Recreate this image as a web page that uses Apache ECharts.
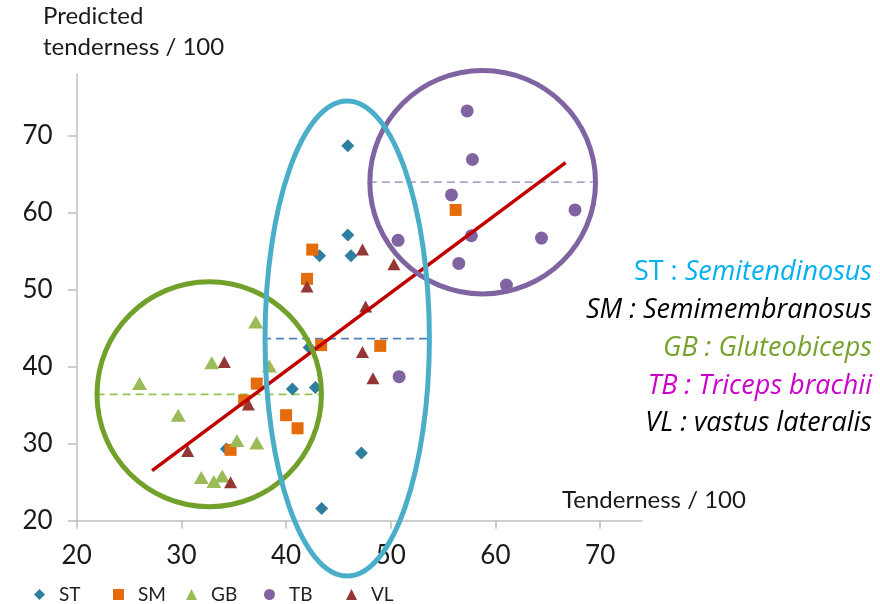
<!DOCTYPE html>
<html>
<head>
<meta charset="utf-8">
<script src="https://cdn.jsdelivr.net/npm/echarts@6/dist/echarts.min.js"></script>
<style>
  html, body { margin: 0; padding: 0; background: #ffffff; }
  #chart { width: 880px; height: 604px; }
</style>
</head>
<body>
<div id="chart"></div>
<script>
// Axis ticks
const xTicks = [20, 30, 40, 50, 60, 70];
const yTicks = [20, 30, 40, 50, 60, 70];

// Measured tenderness (x) and predicted tenderness (y), per muscle
const stTenderness = [45.9, 45.9, 46.2, 43.2, 42.2, 40.6, 42.8, 47.2, 43.4, 34.3];
const stPredicted  = [68.7, 57.1, 54.4, 54.4, 42.5, 37.1, 37.3, 28.8, 21.6, 29.3];

const smTenderness = [42.5, 42.0, 43.35, 49.0, 37.2, 36.0, 34.7, 40.0, 41.1, 56.2];
const smPredicted  = [55.2, 51.4, 42.8, 42.7, 37.8, 35.6, 29.2, 33.7, 32.0, 60.35];

const gbTenderness = [26.0, 29.7, 32.9, 37.1, 38.4, 35.3, 37.2, 31.9, 33.1, 33.9];
const gbPredicted  = [37.8, 33.7, 40.5, 45.8, 40.1, 30.4, 30.1, 25.6, 25.1, 25.8];

const tbTenderness = [57.3, 57.8, 55.8, 67.6, 57.7, 64.4, 50.7, 56.5, 61.05, 50.8];
const tbPredicted  = [73.2, 66.9, 62.3, 60.35, 57.0, 56.7, 56.4, 53.4, 50.6, 38.7];

const vlTenderness = [34.1, 36.4, 30.6, 34.7, 42.0, 47.3, 50.3, 47.6, 47.3, 48.3];
const vlPredicted  = [40.6, 35.1, 29.05, 25.0, 50.4, 55.2, 53.3, 47.8, 41.9, 38.5];

// Fitted line end points
const trendX = [27.2, 66.7];
const trendY = [26.5, 66.5];

// Group mean lines (GB, ST, TB): level and horizontal span
const meanLevel = [36.4, 43.65, 63.95];
const meanFrom  = [21.9, 37.8, 47.9];
const meanTo    = [43.2, 53.6, 69.3];

// Grouping ellipses (GB, TB, ST): centre and half-widths in axis units
const zoneCx = [32.66, 58.78, 45.84];
const zoneCy = [36.42, 63.95, 43.66];
const zoneRx = [10.72, 10.78, 7.85];
const zoneRy = [14.6, 14.5, 30.84];

const FONT = 'Lato, "Open Sans", sans-serif';
const NOTE_FONT = '"Open Sans", sans-serif';
const colors = {
  ST: '#2E7EA1', SM: '#E46C0A', GB: '#9BBB59', TB: '#8064A2', VL: '#943634'
};
const zoneColors = ['#71A12B', '#8064A2', '#4BAEC8'];
const meanColors = ['#92C452', '#4F81BD', '#B3A2C7'];

function pairs(xs, ys) { return xs.map((x, i) => [x, ys[i]]); }

const groups = [
  { name: 'ST', x: stTenderness, y: stPredicted, symbol: 'diamond', size: 13 },
  { name: 'SM', x: smTenderness, y: smPredicted, symbol: 'rect', size: 12 },
  { name: 'GB', x: gbTenderness, y: gbPredicted, symbol: 'triangle', size: [15, 13] },
  { name: 'TB', x: tbTenderness, y: tbPredicted, symbol: 'circle', size: 13 },
  { name: 'VL', x: vlTenderness, y: vlPredicted, symbol: 'triangle', size: [13, 12] }
];

const series = groups.map(g => ({
  name: g.name,
  type: 'scatter',
  symbol: g.symbol,
  symbolSize: g.size,
  itemStyle: { color: colors[g.name], opacity: 1 },
  data: pairs(g.x, g.y),
  z: 3
}));

series.push({
  name: 'trend',
  type: 'line',
  data: pairs(trendX, trendY),
  symbol: 'none',
  lineStyle: { color: '#C00000', width: 3.5 },
  silent: true,
  z: 4
});

meanLevel.forEach((lvl, i) => {
  series.push({
    name: 'mean' + i,
    type: 'line',
    data: [[meanFrom[i], lvl], [meanTo[i], lvl]],
    symbol: 'none',
    lineStyle: { color: meanColors[i], width: 1.8, type: [8, 5] },
    silent: true,
    z: 2
  });
});

series.push({
  name: 'zones',
  type: 'custom',
  coordinateSystem: 'cartesian2d',
  silent: true,
  clip: false,
  z: 10,
  encode: { x: 0, y: 1 },
  data: zoneCx.map((cx, i) => [cx, zoneCy[i], zoneRx[i], zoneRy[i]]),
  renderItem(params, api) {
    const c = api.coord([api.value(0), api.value(1)]);
    const s = api.size([api.value(2), api.value(3)], [api.value(0), api.value(1)]);
    return {
      type: 'ellipse',
      shape: { cx: c[0], cy: c[1], rx: s[0], ry: s[1] },
      style: { fill: 'none', stroke: zoneColors[params.dataIndex], lineWidth: 5 }
    };
  }
});

// One legend block per muscle, laid out along the bottom
const legendLeft = { ST: 29, SM: 108, GB: 181, TB: 259, VL: 341 };
const legends = groups.map(g => ({
  data: [g.name],
  left: legendLeft[g.name],
  top: 580,
  orient: 'horizontal',
  itemWidth: 11,
  itemHeight: 11,
  itemGap: 0,
  selectedMode: false,
  textStyle: { fontFamily: FONT, fontSize: 19, color: '#222', padding: [0, 0, 10, 9] }
}));

const axisLine = { show: true, lineStyle: { color: '#BFBFBF', width: 1.5 } };

const option = {
  animation: false,
  backgroundColor: '#ffffff',
  grid: { left: 76.7, right: 238, top: 74, bottom: 83.3 },
  legend: legends,
  xAxis: {
    type: 'value', min: 20, max: 74, interval: 10,
    axisLine: axisLine,
    axisTick: { show: true, length: 8, customValues: xTicks, lineStyle: { color: '#BFBFBF', width: 1.5 } },
    axisLabel: { customValues: xTicks, margin: 22, fontFamily: FONT, fontSize: 26, color: '#1a1a1a' },
    splitLine: { show: false }
  },
  yAxis: {
    type: 'value', min: 20, max: 78, interval: 10,
    axisLine: axisLine,
    axisTick: { show: true, length: 9, customValues: yTicks, lineStyle: { color: '#BFBFBF', width: 1.5 } },
    axisLabel: { customValues: yTicks, margin: 24, fontFamily: FONT, fontSize: 26, color: '#1a1a1a' },
    splitLine: { show: false }
  },
  graphic: [
    { type: 'text', x: 43, y: 16, style: { text: 'Predicted', font: '24px ' + FONT, fill: '#1a1a1a', verticalAlign: 'middle' } },
    { type: 'text', x: 43, y: 47, style: { text: 'tenderness / 100', font: '24px ' + FONT, fill: '#1a1a1a', verticalAlign: 'middle' } },
    { type: 'text', x: 562, y: 500, style: { text: 'Tenderness / 100', font: '24px ' + FONT, fill: '#1a1a1a', verticalAlign: 'middle' } },
    { type: 'text', x: 872, y: 272, style: {
        text: '{n|ST : }{i|Semitendinosus}', align: 'right', verticalAlign: 'middle',
        rich: {
          n: { fontFamily: NOTE_FONT, fontSize: 27, fill: '#00B0F0' },
          i: { fontFamily: NOTE_FONT, fontSize: 27, fontStyle: 'italic', fill: '#00B0F0' }
        }
    } },
    { type: 'text', x: 872, y: 310, style: { text: 'SM : Semimembranosus', align: 'right', verticalAlign: 'middle', font: 'italic 27px ' + NOTE_FONT, fill: '#000000' } },
    { type: 'text', x: 872, y: 348, style: { text: 'GB : Gluteobiceps', align: 'right', verticalAlign: 'middle', font: 'italic 27px ' + NOTE_FONT, fill: '#76A22C' } },
    { type: 'text', x: 872, y: 386, style: { text: 'TB : Triceps brachii', align: 'right', verticalAlign: 'middle', font: 'italic 27px ' + NOTE_FONT, fill: '#CC00CC' } },
    { type: 'text', x: 872, y: 423, style: { text: 'VL : vastus lateralis', align: 'right', verticalAlign: 'middle', font: 'italic 27px ' + NOTE_FONT, fill: '#000000' } }
  ],
  series: series
};

const chart = echarts.init(document.getElementById('chart'), null, { renderer: 'canvas' });
chart.setOption(option);
</script>
</body>
</html>
